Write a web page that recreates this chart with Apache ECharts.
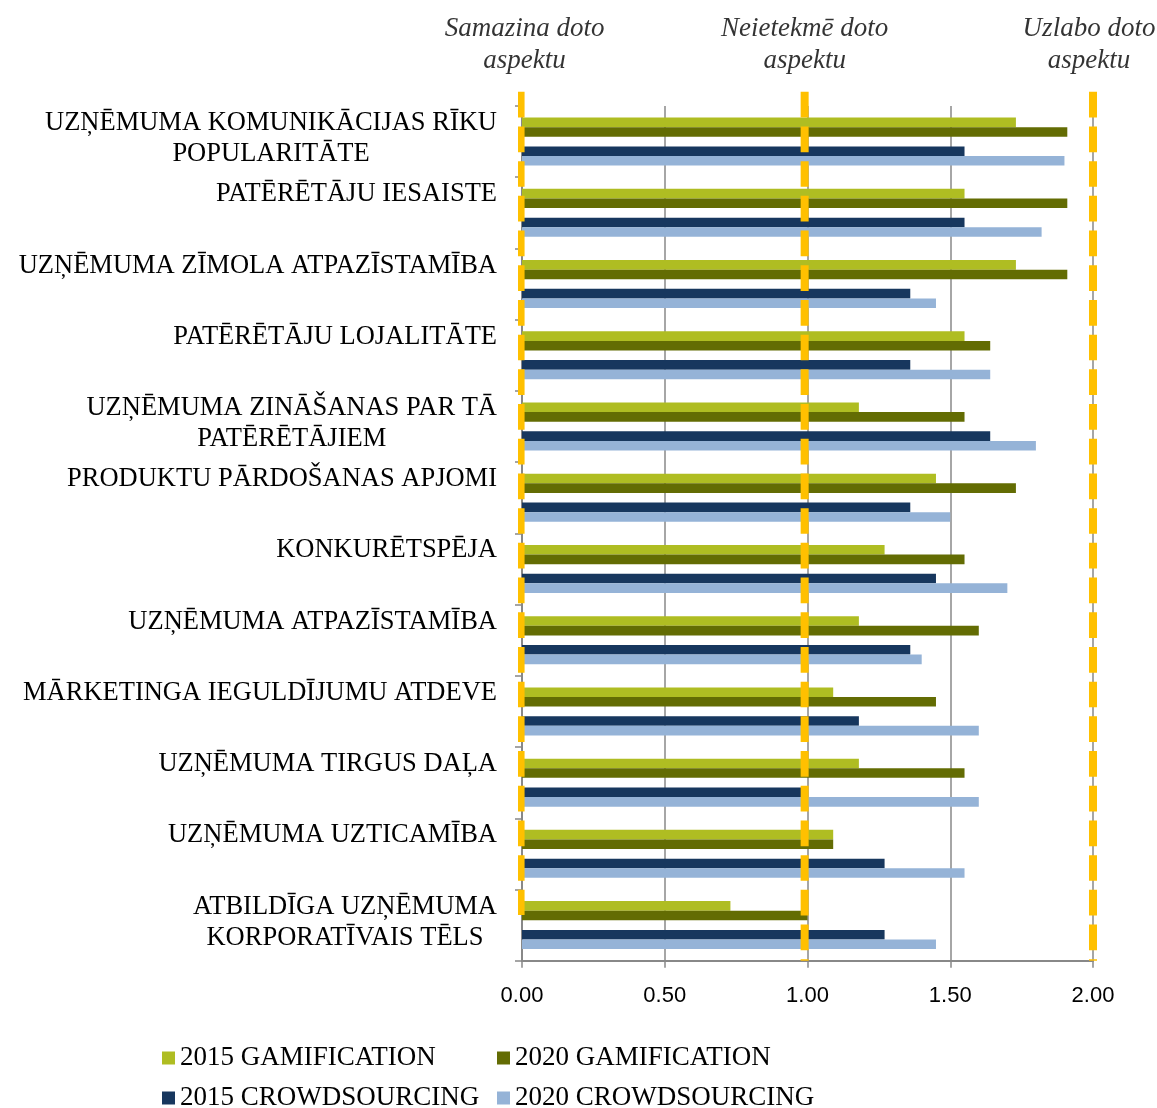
<!DOCTYPE html>
<html>
<head>
<meta charset="utf-8">
<title>Gamification un crowdsourcing ietekme</title>
<script src="https://cdn.jsdelivr.net/npm/echarts@6/dist/echarts.min.js"></script>
<style>
  html, body { margin: 0; padding: 0; background: #fff; }
  #chart { width: 1157px; height: 1108px; }
</style>
</head>
<body>
<div id="chart"></div>
<script>
// kategorijas (no augšas uz leju)
const categories = [
  'UZŅĒMUMA KOMUNIKĀCIJAS RĪKU\nPOPULARITĀTE',
  'PATĒRĒTĀJU IESAISTE',
  'UZŅĒMUMA ZĪMOLA ATPAZĪSTAMĪBA',
  'PATĒRĒTĀJU LOJALITĀTE',
  'UZŅĒMUMA ZINĀŠANAS PAR TĀ\nPATĒRĒTĀJIEM',
  'PRODUKTU PĀRDOŠANAS APJOMI',
  'KONKURĒTSPĒJA',
  'UZŅĒMUMA ATPAZĪSTAMĪBA',
  'MĀRKETINGA IEGULDĪJUMU ATDEVE',
  'UZŅĒMUMA TIRGUS DAĻA',
  'UZŅĒMUMA UZTICAMĪBA',
  'ATBILDĪGA UZŅĒMUMA\nKORPORATĪVAIS TĒLS'
];

const gamification2015 = [1.73, 1.55, 1.73, 1.55, 1.18, 1.45, 1.27, 1.18, 1.09, 1.18, 1.09, 0.73];
const gamification2020 = [1.91, 1.91, 1.91, 1.64, 1.55, 1.73, 1.55, 1.60, 1.45, 1.55, 1.09, 1.00];
const crowdsourcing2015 = [1.55, 1.55, 1.36, 1.36, 1.64, 1.36, 1.45, 1.36, 1.18, 1.00, 1.27, 1.27];
const crowdsourcing2020 = [1.90, 1.82, 1.45, 1.64, 1.80, 1.50, 1.70, 1.40, 1.60, 1.60, 1.55, 1.45];

const seriesNames = ['2015 GAMIFICATION', '2020 GAMIFICATION', '2015 CROWDSOURCING', '2020 CROWDSOURCING'];

// dzeltenās atskaites līnijas un to virsraksti
const refLines = [-0.005, 0.99, 2];
const refTitles = ['Samazina doto\naspektu', 'Neietekmē doto\naspektu', 'Uzlabo doto\naspektu'];

const serif = "'Liberation Serif', 'Times New Roman', serif";
const gridColor = '#888888';

const chart = echarts.init(document.getElementById('chart'), null, { renderer: 'canvas' });

const bar = (name, data, color) => ({
  name,
  type: 'bar',
  data,
  barGap: '0%',
  barCategoryGap: '32.6%',
  itemStyle: { color },
  silent: true
});

// līniju sākums/beigas kategoriju vienībās (palīgass)
const lineTop = -0.2;
const lineEnds = [11.36, 12, 12];
const titleShift = [4, 0, -4];

const legendRow = (names, top) => ({
  data: names,
  left: 162, top,
  padding: 0,
  icon: 'rect', itemWidth: 13, itemHeight: 13, itemGap: 7,
  selectedMode: false,
  textStyle: { fontFamily: serif, fontSize: 27, color: '#000', width: 310, lineHeight: 30 }
});

chart.setOption({
  animation: false,
  grid: { left: 522, right: 64, top: 106, bottom: 147.3, outerBoundsMode: 'none' },
  legend: [
    legendRow(seriesNames.slice(0, 2), 1043),
    legendRow(seriesNames.slice(2, 4), 1083)
  ],
  xAxis: {
    type: 'value',
    min: 0, max: 2, interval: 0.5,
    axisLine: { show: true, onZero: false, lineStyle: { color: gridColor, width: 2 } },
    axisTick: { show: true, length: 7, lineStyle: { color: gridColor, width: 1.5 } },
    splitLine: { show: true, lineStyle: { color: gridColor, width: 1.5 } },
    axisLabel: {
      formatter: v => v.toFixed(2),
      fontFamily: "'Liberation Sans', Arial, sans-serif",
      fontSize: 22, color: '#000', margin: 24
    }
  },
  yAxis: [
    {
      type: 'category',
      inverse: true,
      data: categories,
      axisLine: { show: true, onZero: false, lineStyle: { color: gridColor, width: 2 } },
      axisTick: { show: true, length: 7, lineStyle: { color: gridColor, width: 1.5 } },
      axisLabel: {
        interval: 0,
        margin: 25,
        padding: [0, 0, 6, 0],
        formatter: v => {
          const lines = v.split('\n');
          if (lines.length === 1) lines.push(' ');
          return lines.map(l => '{c|' + l + '}').join('\n');
        },
        rich: {
          c: { align: 'center', fontFamily: serif, fontSize: 26.5, lineHeight: 31, color: '#000' }
        }
      }
    },
    { type: 'value', min: 0, max: 12, inverse: true, show: false }
  ],
  series: [
    bar(seriesNames[0], gamification2015, '#AFBD22'),
    bar(seriesNames[1], gamification2020, '#636C03'),
    { name: 'spacer', type: 'bar', data: [], barGap: '0%', barCategoryGap: '32.6%' },
    bar(seriesNames[2], crowdsourcing2015, '#17375E'),
    bar(seriesNames[3], crowdsourcing2020, '#95B3D7'),
    ...refLines.map((x, i) => ({
      type: 'line',
      yAxisIndex: 1,
      data: [[x, lineTop], [x, lineEnds[i]]],
      showSymbol: false,
      clip: false,
      silent: true,
      z: 5,
      lineStyle: { color: '#FFC000', width: 8, type: [25.7, 9], cap: 'butt' }
    })),
    {
      type: 'scatter',
      yAxisIndex: 1,
      data: refLines.map((x, i) => ({ value: [x, lineTop], label: { offset: [titleShift[i], 0] } })),
      symbolSize: 1,
      clip: false,
      silent: true,
      itemStyle: { color: 'transparent' },
      label: {
        show: true,
        position: 'top',
        distance: 14,
        formatter: p => refTitles[p.dataIndex],
        fontFamily: serif,
        fontStyle: 'italic',
        fontSize: 27,
        lineHeight: 32,
        align: 'center',
        color: '#000'
      }
    }
  ]
});
</script>
</body>
</html>
